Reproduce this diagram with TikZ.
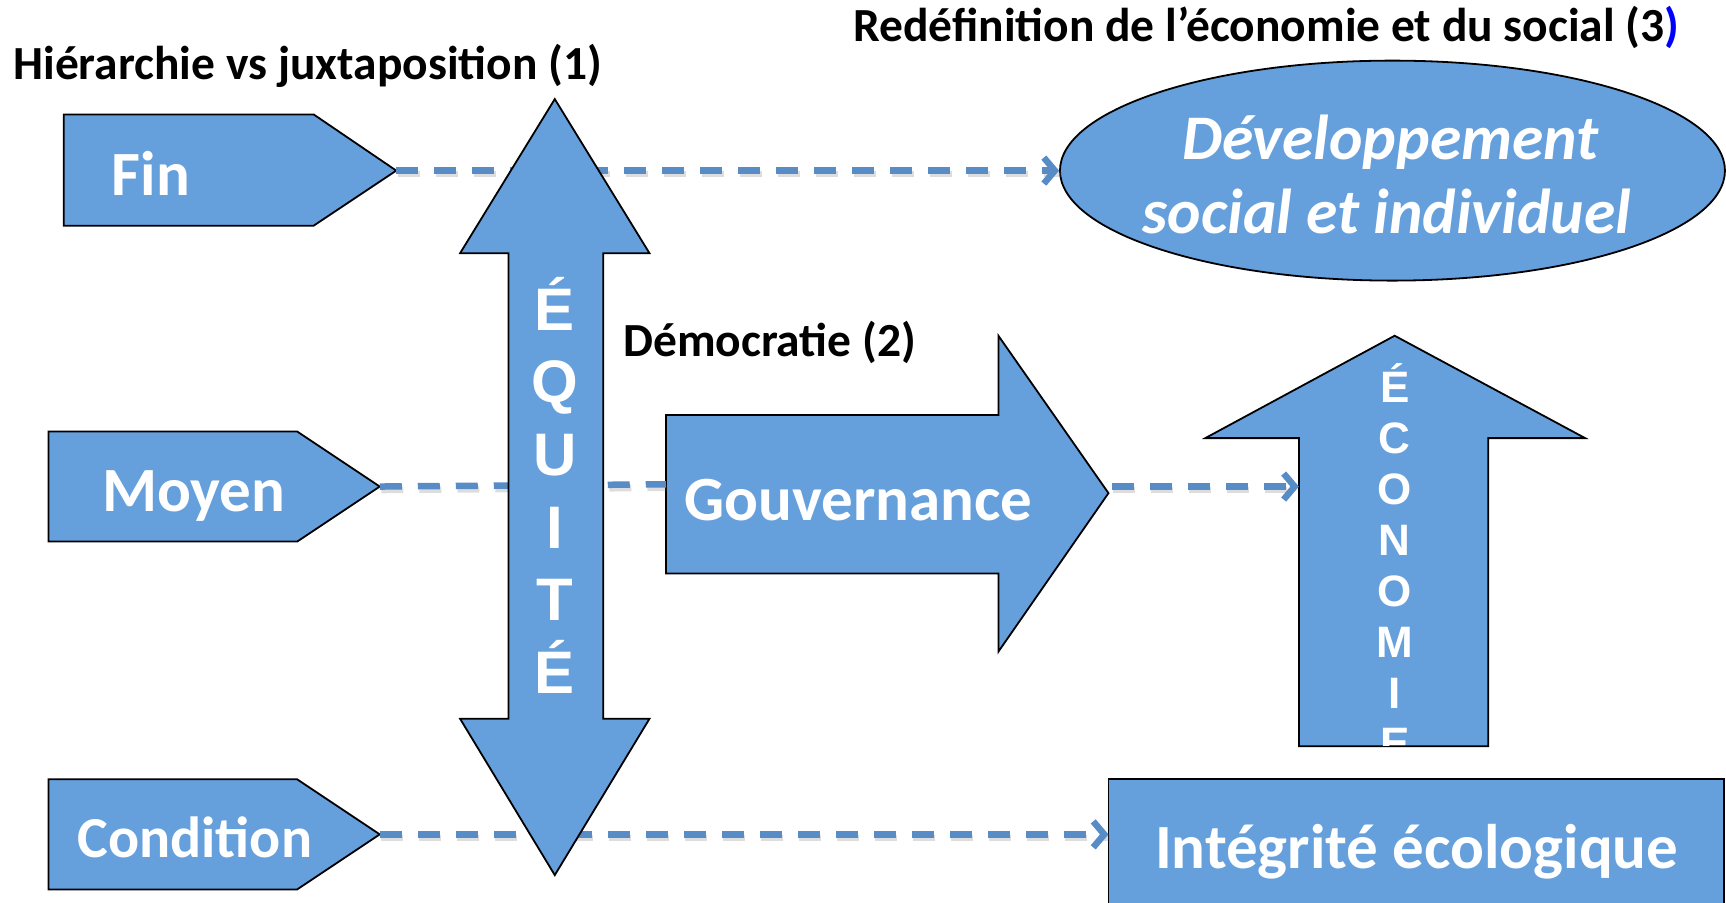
\documentclass[tikz,border=0pt]{standalone}
\usepackage{fontspec}
\setmainfont{Carlito}
\newfontfamily\arialfont{Liberation Sans}
\usetikzlibrary{arrows.meta,shapes.geometric}
\definecolor{shapefill}{RGB}{102,160,220}
\definecolor{dashcol}{RGB}{88,140,198}
\begin{document}
\begin{tikzpicture}[x=1.1008pt,y=-1.1008pt,
  shapebox/.style={fill=shapefill,draw=black,line width=1.8pt,line join=miter},
  boxtext/.style={text=white,font=\bfseries\fontsize{63}{75}\selectfont,inner sep=0pt,anchor=base},
  devtext/.style={text=white,font=\bfseries\itshape\fontsize{63.5}{75}\selectfont,inner sep=0pt,anchor=base},
  titletext/.style={text=black,font=\bfseries\fontsize{47.5}{57}\selectfont,inner sep=0pt,anchor=base west},
  bigletter/.style={text=white,font=\arialfont\bfseries\fontsize{60}{60}\selectfont,inner sep=0pt,anchor=base},
  smallletter/.style={text=white,font=\arialfont\bfseries\fontsize{44}{44}\selectfont,inner sep=0pt,anchor=base},
  link/.style={draw=dashcol,line width=6.5pt,dash pattern=on 22pt off 16pt},
  linkshadow/.style={draw=black!60,opacity=0.22,line width=6.5pt,dash pattern=on 22pt off 16pt,transform canvas={shift={(1.5pt,-3.5pt)}}},
  tip/.style={-{Straight Barb[length=11pt,width=26pt]}}
]
\useasboundingbox (0,0) rectangle (1568,820);

% titles
\node[titletext] (t1) at (12,72) {Hiérarchie vs juxtaposition (1)};
\node[titletext] (t3) at (775,38) {Redéfinition de l’économie et du social (3\textcolor{blue}{)}};
\node[titletext] (t2) at (566,324) {Démocratie (2)};

% pentagons
\draw[shapebox] (58,104) -- (285,104) -- (360,155) -- (285,205) -- (58,205) -- cycle;
\coordinate (fintip) at (360,155);
\node[boxtext] (fin) at (137,178) {Fin};

\draw[shapebox] (44,392) -- (270,392) -- (345,442) -- (270,492) -- (44,492) -- cycle;
\coordinate (moyentip) at (345,442);
\node[boxtext] (moyen) at (176,465) {Moyen};

\draw[shapebox] (44,708) -- (270,708) -- (345,758) -- (270,808) -- (44,808) -- cycle;
\coordinate (condtip) at (345,758);
\node[boxtext,font=\bfseries\fontsize{58}{70}\selectfont] (condition) at (177,779) {Condition};

% ellipse
\node[ellipse,shapebox,minimum width=665pt,minimum height=220pt,inner sep=0pt] (dev) at (1265,155) {};
\node[devtext] (dev1) at (1263,145) {Développement};
\node[devtext] (dev2) at (1260,212) {social et individuel};

% gouvernance arrow
\draw[shapebox] (605,377) -- (907,377) -- (907,305) -- (1007,448) -- (907,592) -- (907,521) -- (605,521) -- cycle;
\coordinate (gouvwest) at (605,440);
\coordinate (gouvout) at (1010,442);
\node[boxtext] (gouv) at (780,473) {Gouvernance};

% economie arrow
\draw[shapebox] (1267,305) -- (1440,398) -- (1352,398) -- (1352,678) -- (1180,678) -- (1180,398) -- (1095,398) -- cycle;
\coordinate (ecowest) at (1180,442);
\begin{scope}
\clip (1267,305) -- (1440,398) -- (1352,398) -- (1352,677) -- (1180,677) -- (1180,398) -- (1095,398) -- cycle;
\foreach \l [count=\i from 0] in {É,C,O,N,O,M,I,E}
  \node[smallletter] (eco\i) at (1267,366+46.2*\i) {\l};
\end{scope}

% integrite
\draw[shapebox] (1007,708) rectangle (1566,840);
\coordinate (integwest) at (1007,758);
\node[boxtext] (integ) at (1287,789) {Intégrité écologique};

% dashed links (shadows then lines)
\draw[linkshadow] (fintip) -- (dev.west);
\draw[linkshadow] (moyentip) -- (gouvwest);
\draw[linkshadow] (gouvout) -- (ecowest);
\draw[linkshadow] (condtip) -- (integwest);
\draw[link,tip] (fintip) -- (dev.west);
\draw[link] (moyentip) -- (gouvwest);
\draw[link,tip] (gouvout) -- (ecowest);
\draw[link,tip] (condtip) -- (integwest);

% equite double arrow
\draw[shapebox] (504,90) -- (590,230) -- (548,230) -- (548,653) -- (590,653) -- (504,795) -- (418,653) -- (462,653) -- (462,230) -- (418,230) -- cycle;
\foreach \l [count=\i from 0] in {É,Q,U,I,T,É}
  \node[bigletter] (eq\i) at (504,300+66*\i) {\l};
\end{tikzpicture}
\end{document}
